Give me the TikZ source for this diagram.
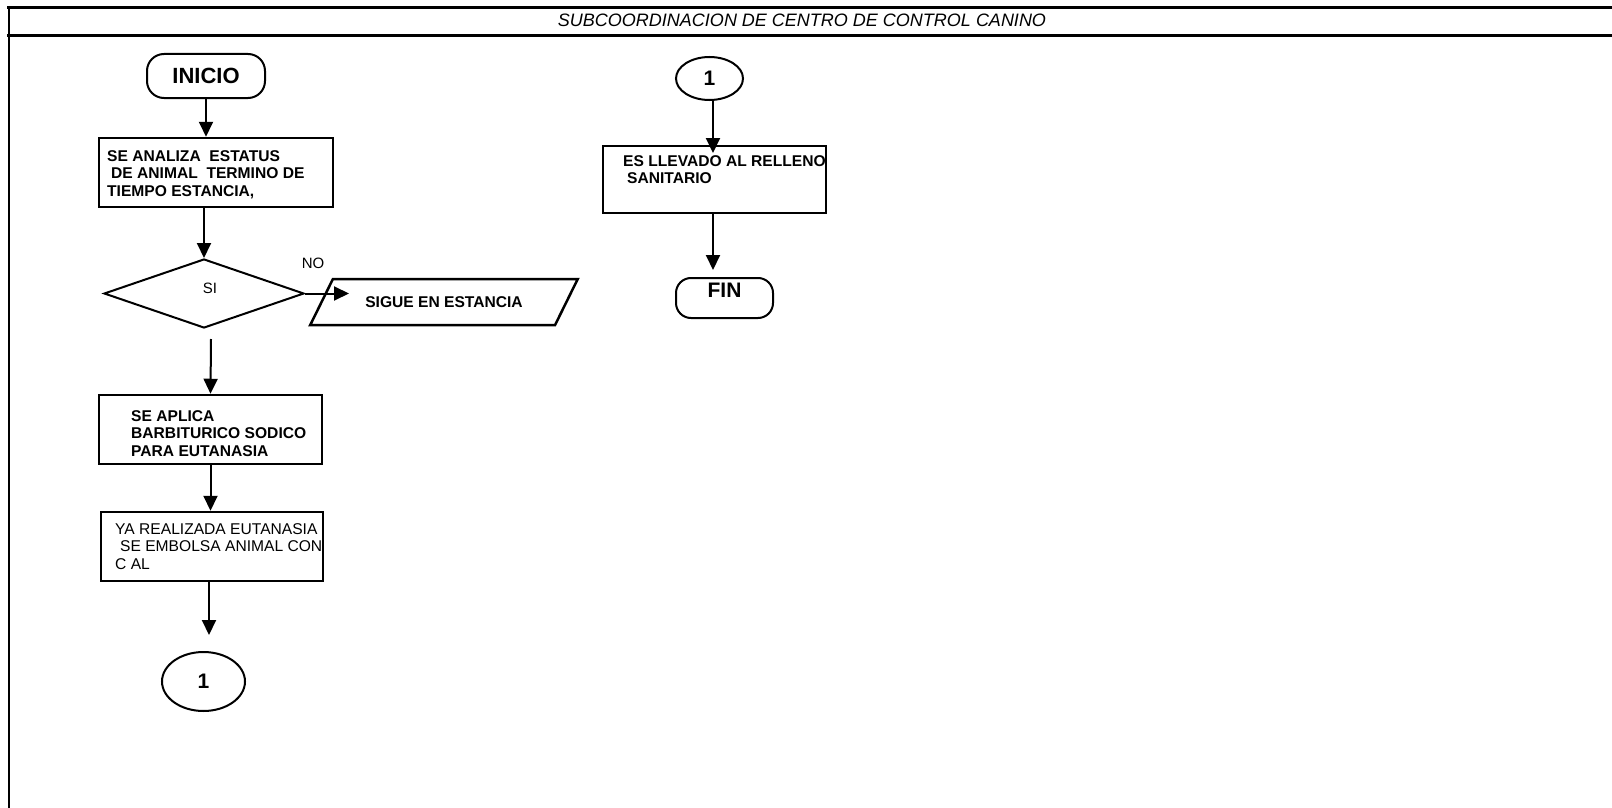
\documentclass[tikz,border=0pt]{standalone}
\usepackage{fontspec}
\setmainfont{Liberation Sans}
\usetikzlibrary{shapes.geometric,arrows.meta}
\begin{document}
\begin{tikzpicture}[x=1pt,y=-1pt,
  frameline/.style={line width=3pt,line cap=rect},
  box/.style={draw,line width=2.5pt,inner sep=0pt},
  term/.style={draw,line width=2pt,inner sep=0pt,rounded corners=17pt,font=\fontsize{22}{26}\selectfont\bfseries},
  conn/.style={draw,ellipse,line width=2pt,inner sep=0pt,font=\fontsize{21}{25}\selectfont\bfseries},
  btxt/.style={anchor=north west,inner sep=0pt,align=left,font=\fontsize{15.6}{17.5}\selectfont\bfseries},
  ntxt/.style={anchor=north west,inner sep=0pt,align=left,font=\fontsize{15.6}{17.5}\selectfont},
  small/.style={inner sep=0pt,font=\fontsize{15}{18}\selectfont},
  arr/.style={line width=2pt,-{Triangle[length=15pt,width=14pt]}}
]
\useasboundingbox (0,0) rectangle (1612,808);
\fill[white] (0,0) rectangle (1612,808);
% frame
\draw[frameline] (8,7.5) -- (1615,7.5);
\draw[frameline] (8,35.5) -- (1615,35.5);
\draw[line width=2.5pt] (9,6) -- (9,810);
\node[inner sep=0pt,font=\fontsize{18}{22}\selectfont\itshape] (title) at (802,20.5) {SUBCOORDINACION DE CENTRO DE CONTROL CANINO};

% left column
\node[term,minimum width=118pt,minimum height=44pt] (ini) at (206,76) {INICIO};
\node[box,minimum width=234pt,minimum height=69pt] (b1) at (216,172.5) {};
\node[btxt] (t1) at (107,150) {SE ANALIZA\ \ ESTATUS\\\hspace*{4pt}DE ANIMAL\ \ TERMINO DE\\TIEMPO ESTANCIA,};
\node[draw,diamond,line width=2pt,inner sep=0pt,aspect=2.9,minimum width=200pt,minimum height=69pt] (d) at (204,293.5) {};
\node[small] (si) at (210,288) {SI};
\node[small] (no) at (313,263) {NO};
\node[draw,trapezium,trapezium left angle=34.5,trapezium right angle=145.5,trapezium stretches=true,
      minimum width=268pt,minimum height=46pt,line width=2.5pt,inner sep=0pt,
      font=\fontsize{15.6}{18}\selectfont\bfseries] (p) at (444,302) {SIGUE EN ESTANCIA};
\node[box,minimum width=223pt,minimum height=69pt] (b2) at (210.5,429.5) {};
\node[btxt] (t2) at (131,410) {SE APLICA\\BARBITURICO SODICO\\PARA EUTANASIA};
\node[box,minimum width=222pt,minimum height=69pt] (b3) at (212,546.5) {};
\node[ntxt] (t3) at (115,523) {YA REALIZADA EUTANASIA\\\hspace*{5pt}SE EMBOLSA ANIMAL CON\\C AL};
\node[conn,minimum width=83pt,minimum height=59pt] (c1) at (203.5,681.5) {1};

% right column
\node[conn,minimum width=67pt,minimum height=43pt] (c2) at (709.5,78.5) {1};
\node[box,minimum width=223pt,minimum height=67pt] (b4) at (714.5,179.5) {};
\node[btxt] (t4) at (623,155) {ES LLEVADO AL RELLENO\\\hspace*{4pt}SANITARIO};
\node[term,rounded corners=15pt,font=\fontsize{21}{25}\selectfont\bfseries,minimum width=97pt,minimum height=40pt,text depth=16pt] (fin) at (724.5,298) {FIN};

% connector ends
\coordinate (dsb) at (211,339);
\coordinate (pa) at (349,293.5);
\coordinate (e3) at (209,635);
\coordinate (e4) at (713,153);
\coordinate (e5) at (713,270);

% arrows
\draw[arr] (ini.south) -- (ini.south |- b1.north);
\draw[arr] (b1.south -| d.north) -- (d.north);
\draw[arr] (d.east) -- (pa);
\draw[arr] (dsb) -- (b2.north);
\draw[arr] (b2.south) -- (b2.south |- b3.north);
\draw[arr] (b3.south -| e3) -- (e3);
\draw[arr] (c2.south -| e4) -- (e4);
\draw[arr] (b4.south -| e5) -- (e5);
\end{tikzpicture}
\end{document}
